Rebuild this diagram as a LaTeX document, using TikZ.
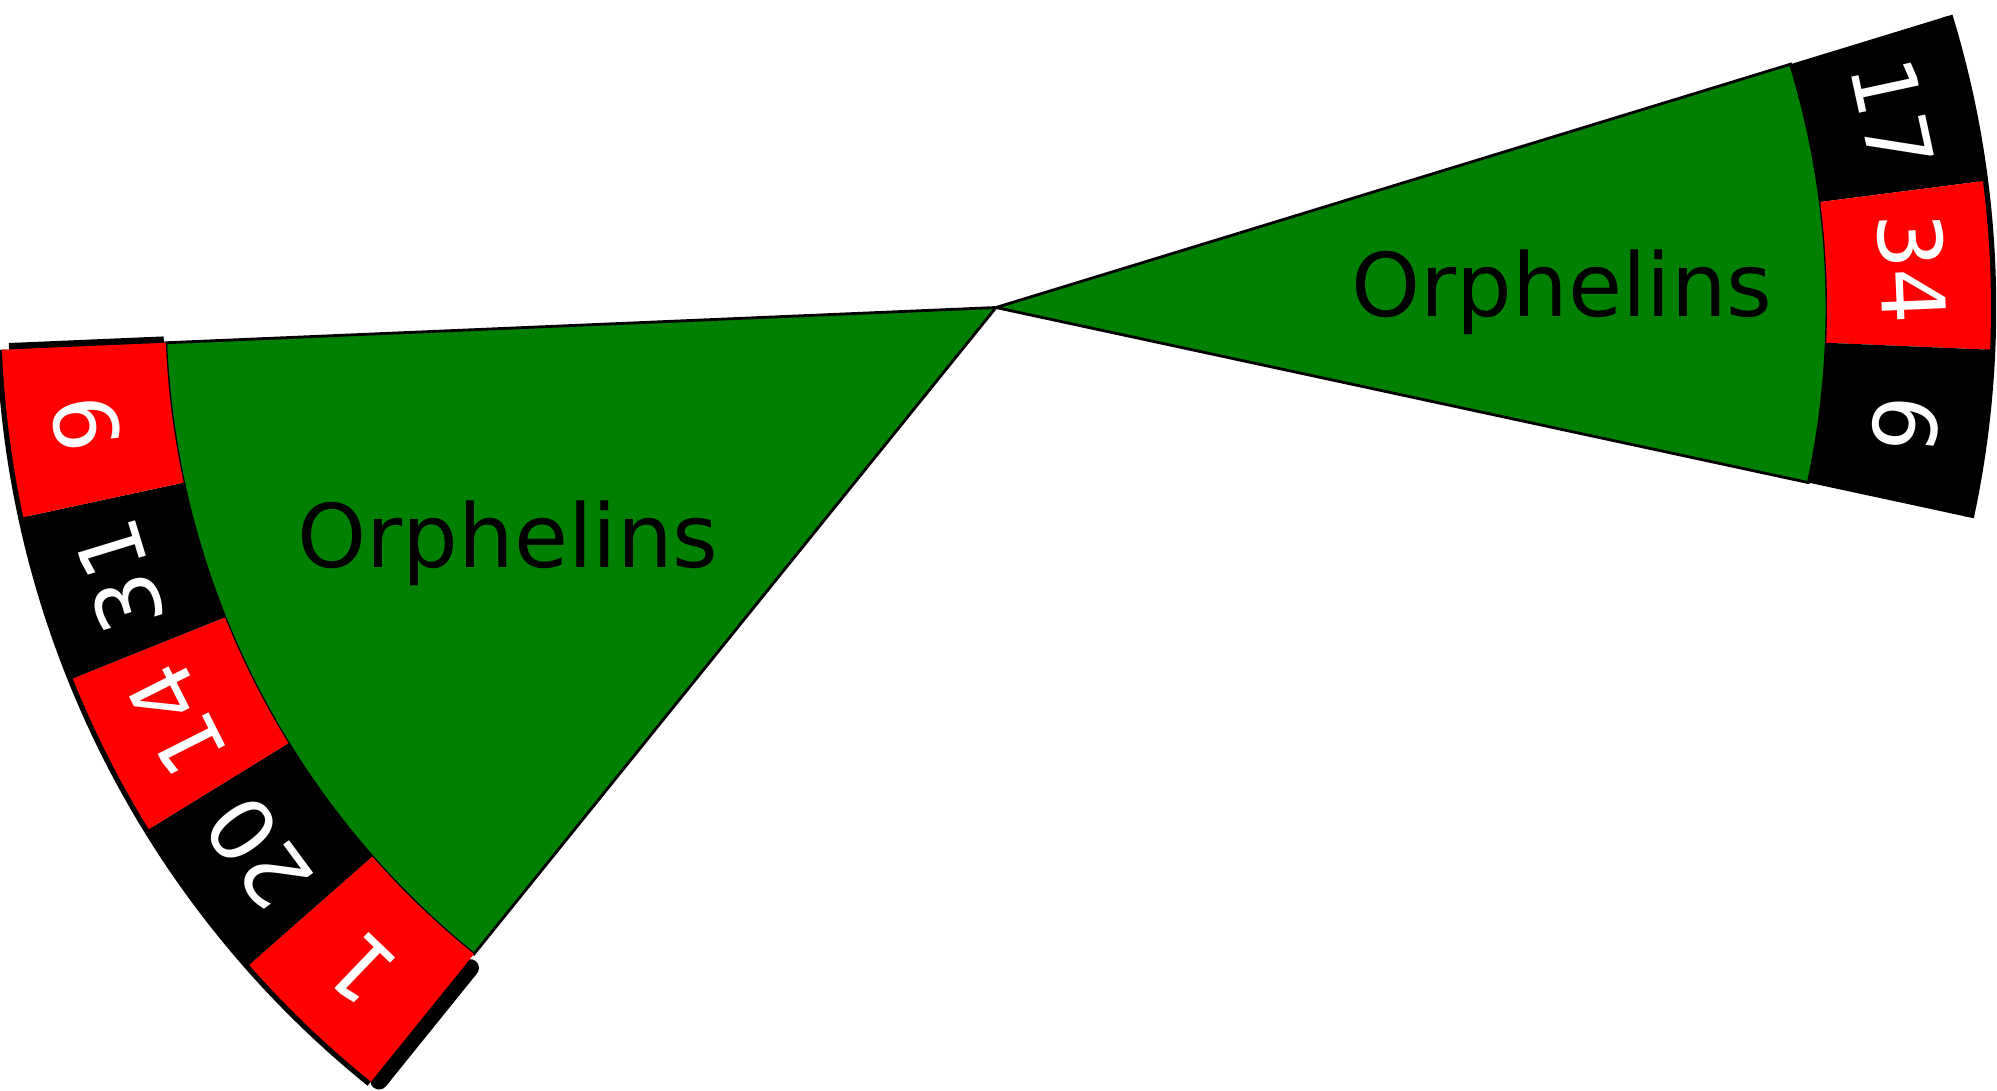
\documentclass[tikz,border=0pt]{standalone}
\usepackage{fontspec}
\setmainfont{DejaVu Sans}
\usetikzlibrary{calc}
\definecolor{feltgreen}{RGB}{0,128,0}
\definecolor{pocketred}{RGB}{255,0,0}

\begin{document}
\begin{tikzpicture}[
  pocketnum/.style={text=white, font=\fontsize{25}{30}\selectfont, inner sep=0pt},
  betname/.style={text=black, font=\fontsize{25}{30}\selectfont, anchor=base, inner sep=0pt},
  felt/.style={fill=feltgreen, draw=black, line width=0.8pt},
  rim/.style={draw=black, line width=3pt},
  cutshadow/.style={draw=black, line width=5pt, line cap=round}
]
  \useasboundingbox (-9.96,-7.825) rectangle (10.01,3.075);
  \pgfmathsetmacro{\pw}{360/37}
  \def\rin{8.31}
  \def\rout{9.95}
  \coordinate (hub) at (0,0);
  % rim shadow + green wedges
  \foreach \firstpk/\lastpk in {8/10, 23/27} {
    \pgfmathsetmacro{\angA}{90-(\firstpk-0.5)*\pw}
    \pgfmathsetmacro{\angB}{90-(\lastpk+0.5)*\pw}
    \draw[rim] (\angA:\rout) arc[start angle=\angA, end angle=\angB, radius=\rout];
    \filldraw[felt] (hub) -- (\angA:\rin) arc[start angle=\angA, end angle=\angB, radius=\rin] -- cycle;
  }
  % rough black edge where the left ring was cut out
  \pgfmathsetmacro{\angC}{90-22.5*\pw}
  \pgfmathsetmacro{\angD}{90-27.5*\pw}
  \draw[cutshadow] ([shift={(0.05,-0.03)}]\angC:8.45) -- ([shift={(0.05,-0.03)}]\angC:9.9);
  \draw[black, line width=2pt] ([shift={(0.02,0.03)}]\angD:8.35) -- ([shift={(0.02,0.03)}]\angD:9.9);
  % pockets: wheel index / number / colour
  \foreach \idx/\num/\col in {8/17/black, 9/34/pocketred, 10/6/black,
      23/1/pocketred, 24/20/black, 25/14/pocketred, 26/31/black, 27/9/pocketred} {
    \pgfmathsetmacro{\angA}{90-(\idx-0.5)*\pw}
    \pgfmathsetmacro{\angB}{90-(\idx+0.5)*\pw}
    \pgfmathsetmacro{\angM}{90-\idx*\pw}
    \fill[\col] (\angA:\rin) arc[start angle=\angA, end angle=\angB, radius=\rin]
      -- (\angB:\rout) arc[start angle=\angB, end angle=\angA, radius=\rout] -- cycle;
    \node[pocketnum, rotate=\angM-90] (n\num) at (\angM:9.17) {\num};
  }
  \node[betname] (orphL) at (-4.88,-2.595) {Orphelins};
  \node[betname] (orphR) at (5.66,-0.085) {Orphelins};
\end{tikzpicture}
\end{document}
